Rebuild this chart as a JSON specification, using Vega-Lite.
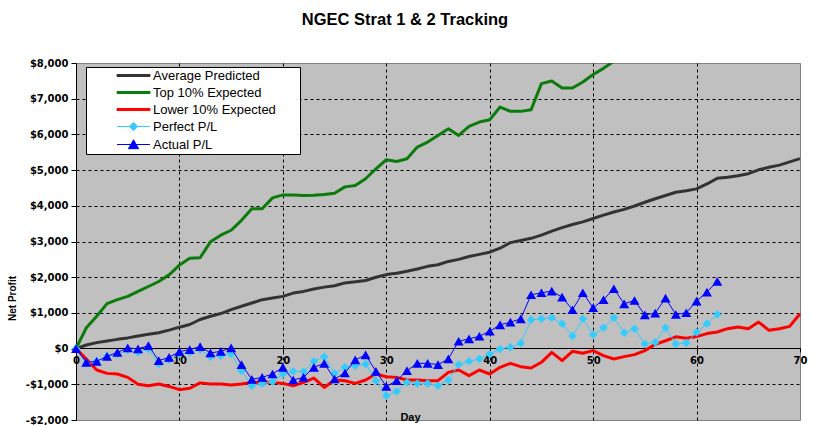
{
  "$schema": "https://vega.github.io/schema/vega-lite/v6.json",
  "description": "NGEC Strat 1 & 2 tracking: predicted bands vs perfect and actual P/L by day.",
  "width": 724,
  "height": 357,
  "autosize": "none",
  "padding": {"left": 76, "top": 63, "right": 17, "bottom": 5},
  "background": "white",
  "title": {
    "text": "NGEC Strat 1 & 2 Tracking",
    "font": "Liberation Sans",
    "fontSize": 16.5,
    "fontWeight": "bold",
    "color": "black",
    "anchor": "middle",
    "dx": -33,
    "offset": 30
  },
  "datasets": {
    "avg": [
      {"day": 0, "profit": 0}, {"day": 1, "profit": 100}, {"day": 2, "profit": 167}, {"day": 3, "profit": 210},
      {"day": 4, "profit": 259}, {"day": 5, "profit": 300}, {"day": 6, "profit": 352}, {"day": 7, "profit": 400},
      {"day": 8, "profit": 444}, {"day": 9, "profit": 518}, {"day": 10, "profit": 600}, {"day": 11, "profit": 675},
      {"day": 12, "profit": 815}, {"day": 13, "profit": 907}, {"day": 14, "profit": 982}, {"day": 15, "profit": 1093},
      {"day": 16, "profit": 1185}, {"day": 17, "profit": 1277}, {"day": 18, "profit": 1370}, {"day": 19, "profit": 1417},
      {"day": 20, "profit": 1463}, {"day": 21, "profit": 1555}, {"day": 22, "profit": 1602}, {"day": 23, "profit": 1667},
      {"day": 24, "profit": 1722}, {"day": 25, "profit": 1760}, {"day": 26, "profit": 1840}, {"day": 27, "profit": 1870},
      {"day": 28, "profit": 1907}, {"day": 29, "profit": 2000}, {"day": 30, "profit": 2073}, {"day": 31, "profit": 2110},
      {"day": 32, "profit": 2165}, {"day": 33, "profit": 2230}, {"day": 34, "profit": 2304}, {"day": 35, "profit": 2350},
      {"day": 36, "profit": 2442}, {"day": 37, "profit": 2500}, {"day": 38, "profit": 2581}, {"day": 39, "profit": 2640},
      {"day": 40, "profit": 2701}, {"day": 41, "profit": 2812}, {"day": 42, "profit": 2969}, {"day": 43, "profit": 3030},
      {"day": 44, "profit": 3089}, {"day": 45, "profit": 3180}, {"day": 46, "profit": 3292}, {"day": 47, "profit": 3390},
      {"day": 48, "profit": 3476}, {"day": 49, "profit": 3550}, {"day": 50, "profit": 3643}, {"day": 51, "profit": 3740},
      {"day": 52, "profit": 3827}, {"day": 53, "profit": 3900}, {"day": 54, "profit": 3994}, {"day": 55, "profit": 4100},
      {"day": 56, "profit": 4197}, {"day": 57, "profit": 4290}, {"day": 58, "profit": 4381}, {"day": 59, "profit": 4420},
      {"day": 60, "profit": 4474}, {"day": 61, "profit": 4612}, {"day": 62, "profit": 4769}, {"day": 63, "profit": 4800},
      {"day": 64, "profit": 4843}, {"day": 65, "profit": 4900}, {"day": 66, "profit": 5009}, {"day": 67, "profit": 5080},
      {"day": 68, "profit": 5139}, {"day": 69, "profit": 5230}, {"day": 70, "profit": 5323}
    ],
    "top": [
      {"day": 0, "profit": 0}, {"day": 1, "profit": 583}, {"day": 2, "profit": 907}, {"day": 3, "profit": 1259},
      {"day": 4, "profit": 1370}, {"day": 5, "profit": 1463}, {"day": 6, "profit": 1602}, {"day": 7, "profit": 1740},
      {"day": 8, "profit": 1880}, {"day": 9, "profit": 2065}, {"day": 10, "profit": 2340}, {"day": 11, "profit": 2528},
      {"day": 12, "profit": 2546}, {"day": 13, "profit": 2990}, {"day": 14, "profit": 3176}, {"day": 15, "profit": 3315},
      {"day": 16, "profit": 3593}, {"day": 17, "profit": 3917}, {"day": 18, "profit": 3917}, {"day": 19, "profit": 4222},
      {"day": 20, "profit": 4305}, {"day": 21, "profit": 4305}, {"day": 22, "profit": 4287}, {"day": 23, "profit": 4296},
      {"day": 24, "profit": 4315}, {"day": 25, "profit": 4352}, {"day": 26, "profit": 4530}, {"day": 27, "profit": 4570},
      {"day": 28, "profit": 4757}, {"day": 29, "profit": 5037}, {"day": 30, "profit": 5290}, {"day": 31, "profit": 5243},
      {"day": 32, "profit": 5318}, {"day": 33, "profit": 5645}, {"day": 34, "profit": 5785}, {"day": 35, "profit": 5972},
      {"day": 36, "profit": 6159}, {"day": 37, "profit": 5972}, {"day": 38, "profit": 6224}, {"day": 39, "profit": 6346},
      {"day": 40, "profit": 6411}, {"day": 41, "profit": 6766}, {"day": 42, "profit": 6645}, {"day": 43, "profit": 6645},
      {"day": 44, "profit": 6692}, {"day": 45, "profit": 7421}, {"day": 46, "profit": 7495}, {"day": 47, "profit": 7299},
      {"day": 48, "profit": 7299}, {"day": 49, "profit": 7467}, {"day": 50, "profit": 7680}, {"day": 51, "profit": 7850},
      {"day": 52, "profit": 8050}, {"day": 53, "profit": 8250}
    ],
    "low": [
      {"day": 0, "profit": 0}, {"day": 1, "profit": -290}, {"day": 2, "profit": -599}, {"day": 3, "profit": -694},
      {"day": 4, "profit": -711}, {"day": 5, "profit": -806}, {"day": 6, "profit": -1000}, {"day": 7, "profit": -1040},
      {"day": 8, "profit": -990}, {"day": 9, "profit": -1060}, {"day": 10, "profit": -1150}, {"day": 11, "profit": -1110},
      {"day": 12, "profit": -960}, {"day": 13, "profit": -993}, {"day": 14, "profit": -993}, {"day": 15, "profit": -1020},
      {"day": 16, "profit": -993}, {"day": 17, "profit": -946}, {"day": 18, "profit": -946}, {"day": 19, "profit": -946},
      {"day": 20, "profit": -975}, {"day": 21, "profit": -1040}, {"day": 22, "profit": -946}, {"day": 23, "profit": -824},
      {"day": 24, "profit": -1087}, {"day": 25, "profit": -880}, {"day": 26, "profit": -899}, {"day": 27, "profit": -975},
      {"day": 28, "profit": -880}, {"day": 29, "profit": -711}, {"day": 30, "profit": -787}, {"day": 31, "profit": -806},
      {"day": 32, "profit": -880}, {"day": 33, "profit": -880}, {"day": 34, "profit": -899}, {"day": 35, "profit": -899},
      {"day": 36, "profit": -665}, {"day": 37, "profit": -599}, {"day": 38, "profit": -758}, {"day": 39, "profit": -599},
      {"day": 40, "profit": -711}, {"day": 41, "profit": -525}, {"day": 42, "profit": -413}, {"day": 43, "profit": -506},
      {"day": 44, "profit": -543}, {"day": 45, "profit": -384}, {"day": 46, "profit": -104}, {"day": 47, "profit": -337},
      {"day": 48, "profit": -75}, {"day": 49, "profit": -131}, {"day": 50, "profit": -56}, {"day": 51, "profit": -197},
      {"day": 52, "profit": -290}, {"day": 53, "profit": -225}, {"day": 54, "profit": -169}, {"day": 55, "profit": -56},
      {"day": 56, "profit": 120}, {"day": 57, "profit": 220}, {"day": 58, "profit": 330}, {"day": 59, "profit": 290},
      {"day": 60, "profit": 337}, {"day": 61, "profit": 420}, {"day": 62, "profit": 466}, {"day": 63, "profit": 558},
      {"day": 64, "profit": 605}, {"day": 65, "profit": 558}, {"day": 66, "profit": 743}, {"day": 67, "profit": 512},
      {"day": 68, "profit": 558}, {"day": 69, "profit": 623}, {"day": 70, "profit": 974}
    ],
    "perfect": [
      {"day": 0, "profit": 0}, {"day": 1, "profit": -413}, {"day": 2, "profit": -357}, {"day": 3, "profit": -216},
      {"day": 4, "profit": -150}, {"day": 5, "profit": -37}, {"day": 6, "profit": -104}, {"day": 7, "profit": -8},
      {"day": 8, "profit": -430}, {"day": 9, "profit": -317}, {"day": 10, "profit": -150}, {"day": 11, "profit": -104},
      {"day": 12, "profit": -28}, {"day": 13, "profit": -225}, {"day": 14, "profit": -197}, {"day": 15, "profit": -150},
      {"day": 16, "profit": -618}, {"day": 17, "profit": -1040}, {"day": 18, "profit": -975}, {"day": 19, "profit": -927},
      {"day": 20, "profit": -711}, {"day": 21, "profit": -638}, {"day": 22, "profit": -646}, {"day": 23, "profit": -357},
      {"day": 24, "profit": -225}, {"day": 25, "profit": -694}, {"day": 26, "profit": -525}, {"day": 27, "profit": -478},
      {"day": 28, "profit": -430}, {"day": 29, "profit": -899}, {"day": 30, "profit": -1320}, {"day": 31, "profit": -1199},
      {"day": 32, "profit": -946}, {"day": 33, "profit": -975}, {"day": 34, "profit": -975}, {"day": 35, "profit": -1040},
      {"day": 36, "profit": -880}, {"day": 37, "profit": -449}, {"day": 38, "profit": -357}, {"day": 39, "profit": -290},
      {"day": 40, "profit": -150}, {"day": 41, "profit": -10}, {"day": 42, "profit": 37}, {"day": 43, "profit": 150},
      {"day": 44, "profit": 805}, {"day": 45, "profit": 833}, {"day": 46, "profit": 862}, {"day": 47, "profit": 693},
      {"day": 48, "profit": 356}, {"day": 49, "profit": 833}, {"day": 50, "profit": 385}, {"day": 51, "profit": 581},
      {"day": 52, "profit": 862}, {"day": 53, "profit": 441}, {"day": 54, "profit": 553}, {"day": 55, "profit": 131},
      {"day": 56, "profit": 178}, {"day": 57, "profit": 581}, {"day": 58, "profit": 131}, {"day": 59, "profit": 159},
      {"day": 60, "profit": 459}, {"day": 61, "profit": 693}, {"day": 62, "profit": 955}
    ],
    "actual": [
      {"day": 0, "profit": 0}, {"day": 1, "profit": -385}, {"day": 2, "profit": -357}, {"day": 3, "profit": -216},
      {"day": 4, "profit": -104}, {"day": 5, "profit": 20}, {"day": 6, "profit": -8}, {"day": 7, "profit": 84},
      {"day": 8, "profit": -337}, {"day": 9, "profit": -244}, {"day": 10, "profit": -84}, {"day": 11, "profit": -28},
      {"day": 12, "profit": 56}, {"day": 13, "profit": -121}, {"day": 14, "profit": -76}, {"day": 15, "profit": 20},
      {"day": 16, "profit": -449}, {"day": 17, "profit": -862}, {"day": 18, "profit": -806}, {"day": 19, "profit": -711},
      {"day": 20, "profit": -525}, {"day": 21, "profit": -879}, {"day": 22, "profit": -806}, {"day": 23, "profit": -525},
      {"day": 24, "profit": -413}, {"day": 25, "profit": -851}, {"day": 26, "profit": -683}, {"day": 27, "profit": -317},
      {"day": 28, "profit": -177}, {"day": 29, "profit": -638}, {"day": 30, "profit": -1059}, {"day": 31, "profit": -899},
      {"day": 32, "profit": -618}, {"day": 33, "profit": -413}, {"day": 34, "profit": -413}, {"day": 35, "profit": -449},
      {"day": 36, "profit": -290}, {"day": 37, "profit": 206}, {"day": 38, "profit": 272}, {"day": 39, "profit": 346},
      {"day": 40, "profit": 487}, {"day": 41, "profit": 665}, {"day": 42, "profit": 740}, {"day": 43, "profit": 833},
      {"day": 44, "profit": 1508}, {"day": 45, "profit": 1564}, {"day": 46, "profit": 1610}, {"day": 47, "profit": 1441},
      {"day": 48, "profit": 1087}, {"day": 49, "profit": 1564}, {"day": 50, "profit": 1143}, {"day": 51, "profit": 1368},
      {"day": 52, "profit": 1677}, {"day": 53, "profit": 1255}, {"day": 54, "profit": 1348}, {"day": 55, "profit": 946},
      {"day": 56, "profit": 992}, {"day": 57, "profit": 1413}, {"day": 58, "profit": 955}, {"day": 59, "profit": 1003},
      {"day": 60, "profit": 1329}, {"day": 61, "profit": 1582}, {"day": 62, "profit": 1882}
    ]
  },
  "encoding": {
    "x": {
      "field": "day",
      "type": "quantitative",
      "scale": {"domain": [0, 70], "nice": false, "zero": false},
      "axis": {
        "values": [0, 10, 20, 30, 40, 50, 60, 70],
        "offset": -72,
        "title": "Day",
        "titleX": 334,
        "titleY": 69,
        "titleAlign": "center",
        "titleBaseline": "middle",
        "titleFont": "Liberation Sans",
        "titleFontSize": 11,
        "titleFontWeight": "bold",
        "titleColor": "black",
        "labelFont": "DejaVu Sans",
        "labelFontSize": 10,
        "labelFontWeight": "bold",
        "labelColor": "black",
        "labelPadding": 3,
        "labelFlush": false,
        "labelOverlap": false,
        "tickSize": 4,
        "tickColor": "black",
        "domainColor": "black",
        "gridColor": "black",
        "gridDash": [3, 3],
        "gridOpacity": {"condition": {"test": "datum.value == 70 || datum.value == 0", "value": 0}, "value": 1}
      }
    },
    "y": {
      "field": "profit",
      "type": "quantitative",
      "scale": {"domain": [-2000, 8000], "nice": false},
      "axis": {
        "values": [-2000, -1000, 0, 1000, 2000, 3000, 4000, 5000, 6000, 7000, 8000],
        "labelExpr": "datum.value < 0 ? '-$' + format(-datum.value, ',') : '$' + format(datum.value, ',')",
        "title": "Net Profit",
        "titleX": -64,
        "titleY": 235,
        "titleAngle": -90,
        "titleAlign": "center",
        "titleBaseline": "middle",
        "titleFont": "Liberation Sans",
        "titleFontSize": 10,
        "titleFontWeight": "bold",
        "titleColor": "black",
        "labelFont": "DejaVu Sans",
        "labelFontSize": 10,
        "labelFontWeight": "bold",
        "labelColor": "black",
        "labelPadding": 3,
        "labelFlush": false,
        "labelOverlap": false,
        "tickSize": 5,
        "tickColor": "black",
        "domainColor": "black",
        "gridColor": "black",
        "gridDash": [3, 3],
        "gridOpacity": {"condition": {"test": "datum.value == 8000 || datum.value == -2000 || datum.value == 0", "value": 0}, "value": 1}
      }
    }
  },
  "layer": [
    {
      "data": {"name": "avg"},
      "mark": {"type": "line", "strokeWidth": 3, "strokeJoin": "round"},
      "encoding": {
        "color": {
          "datum": "Average Predicted",
          "type": "nominal",
          "scale": {
            "domain": ["Average Predicted", "Top 10% Expected", "Lower 10% Expected", "Perfect P/L", "Actual P/L"],
            "range": ["#333333", "#0B7B0B", "#FF0000", "#33CCFF", "#0000FF"]
          },
          "legend": {
            "orient": "none",
            "legendX": 10,
            "legendY": 4,
            "title": "\u00a0",
            "titleOrient": "right",
            "titlePadding": 22,
            "titleFontSize": 2,
            "fillColor": "white",
            "strokeColor": "black",
            "padding": 2,
            "rowPadding": 3,
            "symbolSize": 144,
            "symbolStrokeWidth": 1,
            "labelFont": "Liberation Sans",
            "labelFontSize": 13,
            "labelColor": "black",
            "labelOffset": 52,
            "encode": {
              "symbols": {
                "update": {
                  "shape": {"signal": "datum.value == 'Perfect P/L' ? 'M3.75,0L9.25,0M6.5,-0.67L7.17,0L6.5,0.67L5.83,0Z' : datum.value == 'Actual P/L' ? 'M3.75,0L9.25,0M6.5,-0.78L7.35,0.7L5.65,0.7Z' : 'M3.75,-0.17L9.25,-0.17L9.25,0.17L3.75,0.17Z'"},
                  "fill": {"signal": "datum.value == 'Average Predicted' ? '#333333' : datum.value == 'Top 10% Expected' ? '#0B7B0B' : datum.value == 'Lower 10% Expected' ? '#FF0000' : datum.value == 'Perfect P/L' ? '#33CCFF' : '#0000FF'"},
                  "stroke": {"signal": "datum.value == 'Average Predicted' ? '#333333' : datum.value == 'Top 10% Expected' ? '#0B7B0B' : datum.value == 'Lower 10% Expected' ? '#FF0000' : datum.value == 'Perfect P/L' ? '#33CCFF' : '#0000FF'"},
                  "opacity": {"value": 1}
                }
              }
            }
          }
        }
      }
    },
    {
      "data": {"name": "top"},
      "mark": {"type": "line", "strokeWidth": 3, "strokeJoin": "round", "clip": true},
      "encoding": {"color": {"datum": "Top 10% Expected", "type": "nominal"}}
    },
    {
      "data": {"name": "low"},
      "mark": {"type": "line", "strokeWidth": 3, "strokeJoin": "round"},
      "encoding": {"color": {"datum": "Lower 10% Expected", "type": "nominal"}}
    },
    {
      "data": {"name": "perfect"},
      "mark": {"type": "line", "strokeWidth": 1, "point": {"shape": "diamond", "filled": true, "size": 72, "opacity": 1}},
      "encoding": {"color": {"datum": "Perfect P/L", "type": "nominal"}}
    },
    {
      "data": {"name": "actual"},
      "mark": {"type": "line", "strokeWidth": 1, "point": {"shape": "triangle-up", "filled": true, "size": 100, "opacity": 1}},
      "encoding": {"color": {"datum": "Actual P/L", "type": "nominal"}}
    }
  ],
  "config": {
    "view": {"fill": "#C0C0C0", "stroke": "#808080", "strokeWidth": 1},
    "axis": {"domainWidth": 1, "tickWidth": 1, "gridWidth": 1}
  }
}
